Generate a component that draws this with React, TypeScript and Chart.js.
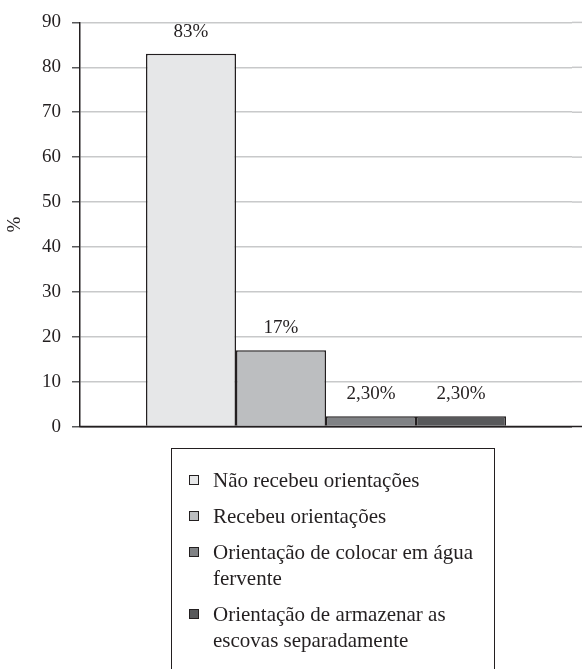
import React, { useEffect, useRef } from "react";
import { Chart, registerables } from "chart.js";

Chart.register(...registerables);

const categories = [
  "Não recebeu orientações",
  "Recebeu orientações",
  "Orientação de colocar em água fervente",
  "Orientação de armazenar as escovas separadamente",
];
const legendLines = [
  ["Não recebeu orientações"],
  ["Recebeu orientações"],
  ["Orientação de colocar em água", "fervente"],
  ["Orientação de armazenar as", "escovas separadamente"],
];
const values = [83, 17, 2.3, 2.3];
const valueLabels = ["83%", "17%", "2,30%", "2,30%"];
const colors = ["#e6e7e8", "#bcbec0", "#808285", "#58595b"];
const yMin = 0;
const yMax = 90;
const yStep = 10;
const yTitle = "%";

const FONT = "Liberation Serif, DejaVu Serif, serif";
const INK = "#231f20";
const GRID = "#c8c9ca";

const extendGrid = {
  id: "extendGrid",
  afterDraw(chart: any) {
    const ctx = chart.ctx;
    const y = chart.scales.y;
    const area = chart.chartArea;
    ctx.save();
    ctx.lineWidth = 1.5;
    y.ticks.forEach((t: any) => {
      const py = y.getPixelForValue(t.value);
      ctx.strokeStyle = t.value === 0 ? INK : GRID;
      ctx.beginPath();
      ctx.moveTo(t.value === 0 ? area.left : area.right, py);
      ctx.lineTo(chart.width, py);
      ctx.stroke();
    });
    ctx.restore();
  },
};

const valueLabelPlugin = {
  id: "valueLabels",
  afterDatasetsDraw(chart: any) {
    const ctx = chart.ctx;
    ctx.save();
    ctx.font = `19px ${FONT}`;
    ctx.fillStyle = INK;
    ctx.textAlign = "center";
    ctx.textBaseline = "alphabetic";
    chart.data.datasets.forEach((ds: any, i: number) => {
      const meta = chart.getDatasetMeta(i);
      meta.data.forEach((el: any) => {
        ctx.fillText(valueLabels[i], el.x, el.y - 17);
      });
    });
    ctx.restore();
  },
};

export default function App() {
  const ref = useRef<HTMLCanvasElement>(null);
  useEffect(() => {
    if (!ref.current) return;
    const chart = new Chart(ref.current, {
      type: "bar",
      data: {
        labels: [""],
        datasets: categories.map((c, i) => ({
          label: c,
          data: [values[i]],
          backgroundColor: colors[i],
          borderColor: INK,
          borderWidth: 1.5,
          categoryPercentage: 0.7317,
          barPercentage: 1,
        })),
      },
      options: {
        animation: false,
        responsive: true,
        maintainAspectRatio: false,
        layout: { padding: { top: 20, right: 10, bottom: 2, left: 0 } },
        plugins: {
          legend: { display: false },
          tooltip: { enabled: false },
        },
        scales: {
          x: {
            display: false,
          },
          y: {
            min: yMin,
            max: yMax,
            ticks: {
              stepSize: yStep,
              color: INK,
              font: { family: FONT, size: 19 },
              padding: 11,
            },
            grid: {
              color: (ctx: any) => (ctx.tick && ctx.tick.value === 0 ? INK : GRID),
              lineWidth: 1.5,
              tickLength: 8,
              tickColor: "#58595b",
            },
            border: { display: true, color: INK, width: 1.5 },
            title: {
              display: true,
              text: yTitle,
              color: INK,
              font: { family: FONT, size: 19 },
              padding: 4,
            },
            afterFit: (s: any) => {
              s.width = 80;
            },
          },
        },
      },
      plugins: [extendGrid, valueLabelPlugin],
    });
    return () => chart.destroy();
  }, []);

  return (
    <div
      style={{
        position: "absolute",
        left: 0,
        top: 0,
        width: 582,
        height: 669,
        overflow: "hidden",
        background: "#fff",
        fontFamily: FONT,
        color: INK,
      }}
    >
      <div style={{ position: "absolute", left: 0, top: 0, width: 582, height: 449 }}>
        <canvas ref={ref} />
      </div>
      <div
        style={{
          position: "absolute",
          left: 171,
          top: 448,
          width: 324,
          height: 240,
          boxSizing: "border-box",
          border: `1.5px solid ${INK}`,
          paddingTop: 18,
          paddingLeft: 17,
        }}
      >
        {legendLines.map((lines, i) => (
          <div key={i} style={{ display: "flex", alignItems: "flex-start", marginBottom: 10 }}>
            <div
              style={{
                width: 10,
                height: 10,
                marginTop: 8,
                marginRight: 14,
                boxSizing: "border-box",
                border: `1px solid ${INK}`,
                background: colors[i],
                flex: "none",
              }}
            />
            <div style={{ fontSize: 21, lineHeight: "26px", whiteSpace: "nowrap" }}>
              {lines.map((l, j) => (
                <div key={j}>{l}</div>
              ))}
            </div>
          </div>
        ))}
      </div>
    </div>
  );
}
